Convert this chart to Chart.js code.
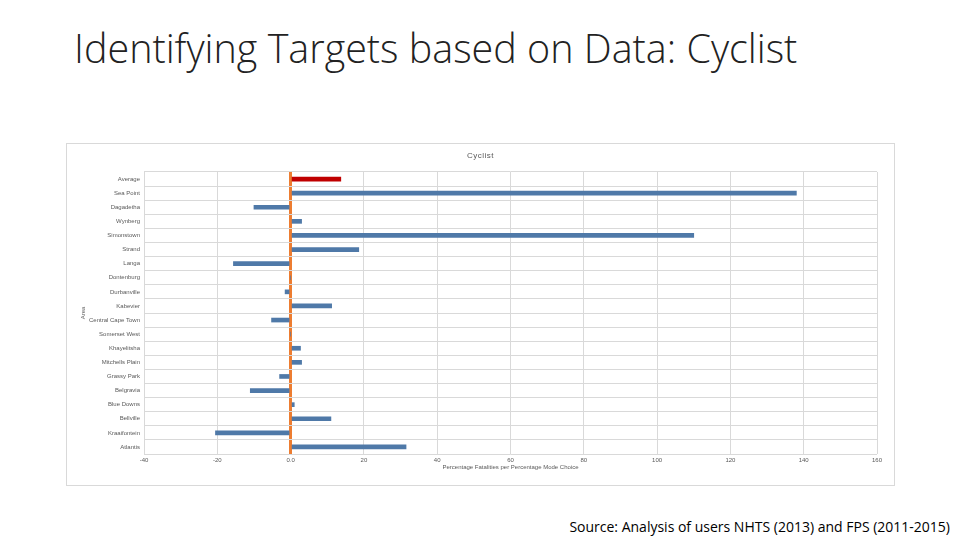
<!DOCTYPE html>
<html>
<head>
<meta charset="utf-8">
<script src="https://cdn.jsdelivr.net/npm/chart.js@4.4.0/dist/chart.umd.min.js"></script>
<style>
    body { margin: 0; width: 960px; height: 540px; background: #fff; position: relative; overflow: hidden; }
    #slideTitle { position: absolute; left: 74px; top: 21px; font-family: "Open Sans", sans-serif; font-weight: 300; font-size: 39.5px; color: #222; white-space: nowrap; }
    #box { position: absolute; left: 66px; top: 143px; width: 827px; height: 341px; border: 1px solid #d9d9d9; }
    #chartTitle { position: absolute; left: 0; width: 100%; top: 7px; text-align: center; font-family: "Liberation Sans", sans-serif; font-size: 8px; color: #595959; letter-spacing: 0.5px; }
    #wrap { position: absolute; left: 0; top: 0; width: 827px; height: 341px; }
    #source { position: absolute; right: 10px; top: 517px; font-family: "Open Sans", sans-serif; font-size: 14px; color: #000; }
</style>
</head>
<body>
<div id="slideTitle">Identifying Targets based on Data: Cyclist</div>
<div id="box">
    <div id="wrap"><canvas id="areaChart"></canvas></div>
    <div id="chartTitle">Cyclist</div>
</div>
<div id="source">Source: Analysis of users NHTS (2013) and FPS (2011-2015)</div>
<script>
const areas = ['Average', 'Sea Point', 'Dagadetha', 'Wynberg', 'Simonstown', 'Strand', 'Langa', 'Dontenburg', 'Durbanville', 'Kabevier',
    'Central Cape Town', 'Somerset West', 'Khayelitsha', 'Mitchells Plain', 'Grassy Park', 'Belgravia', 'Blue Downs', 'Bellville', 'Kraaifontein', 'Atlantis'];
const ratios = [13.7, 138, -10, 3.0, 110, 18.6, -15.6, 0, -1.5, 11.2,
    -5.2, 0, 2.7, 3.0, -3.0, -11, 1.0, 11, -20.5, 31.5];
const xTicks = [-40, -20, 0, 20, 40, 60, 80, 100, 120, 140, 160];

const barColors = areas.map(a => a === 'Average' ? '#c00000' : '#4f79a8');

const ctx = document.getElementById('areaChart').getContext('2d');
new Chart(ctx, {
    type: 'bar',
    data: {
        labels: areas,
        datasets: [{
            label: 'Cyclist',
            data: ratios,
            backgroundColor: barColors,
            barThickness: 4
        }]
    },
    options: {
        indexAxis: 'y',
        responsive: true,
        maintainAspectRatio: false,
        animation: false,
        layout: { padding: { top: 28, right: 17, left: 0, bottom: 14 } },
        plugins: { legend: { display: false }, tooltip: { enabled: false } },
        scales: {
            x: {
                min: -40,
                max: 160,
                afterBuildTicks: function(scale) {
                    scale.ticks = xTicks.map(v => ({ value: v }));
                },
                afterFit: function(scale) { scale.height = 17; },
                ticks: {
                    font: { family: 'Liberation Sans', size: 6 },
                    color: '#595959',
                    padding: 3,
                    maxRotation: 0,
                    callback: function(value) { return value === 0 ? '0.0' : String(value); }
                },
                grid: {
                    color: c => c.tick && c.tick.value === 0 ? '#ed7d31' : '#d9d9d9',
                    lineWidth: c => c.tick && c.tick.value === 0 ? 3 : 1,
                    drawTicks: false
                },
                border: { display: false },
                title: {
                    display: true,
                    text: 'Percentage Fatalities per Percentage Mode Choice',
                    font: { family: 'Liberation Sans', size: 6 },
                    color: '#595959',
                    padding: { top: 0, bottom: 0 }
                }
            },
            y: {
                afterFit: function(scale) { scale.width = 77; },
                ticks: {
                    font: { family: 'Liberation Sans', size: 6 },
                    color: '#595959',
                    padding: 4,
                    autoSkip: false
                },
                grid: { color: '#d9d9d9', drawTicks: false },
                border: { display: false },
                title: {
                    display: true,
                    text: 'Area',
                    font: { family: 'Liberation Sans', size: 6 },
                    color: '#595959',
                    padding: { top: 13, bottom: 0 }
                }
            }
        }
    }
});
</script>
</body>
</html>
